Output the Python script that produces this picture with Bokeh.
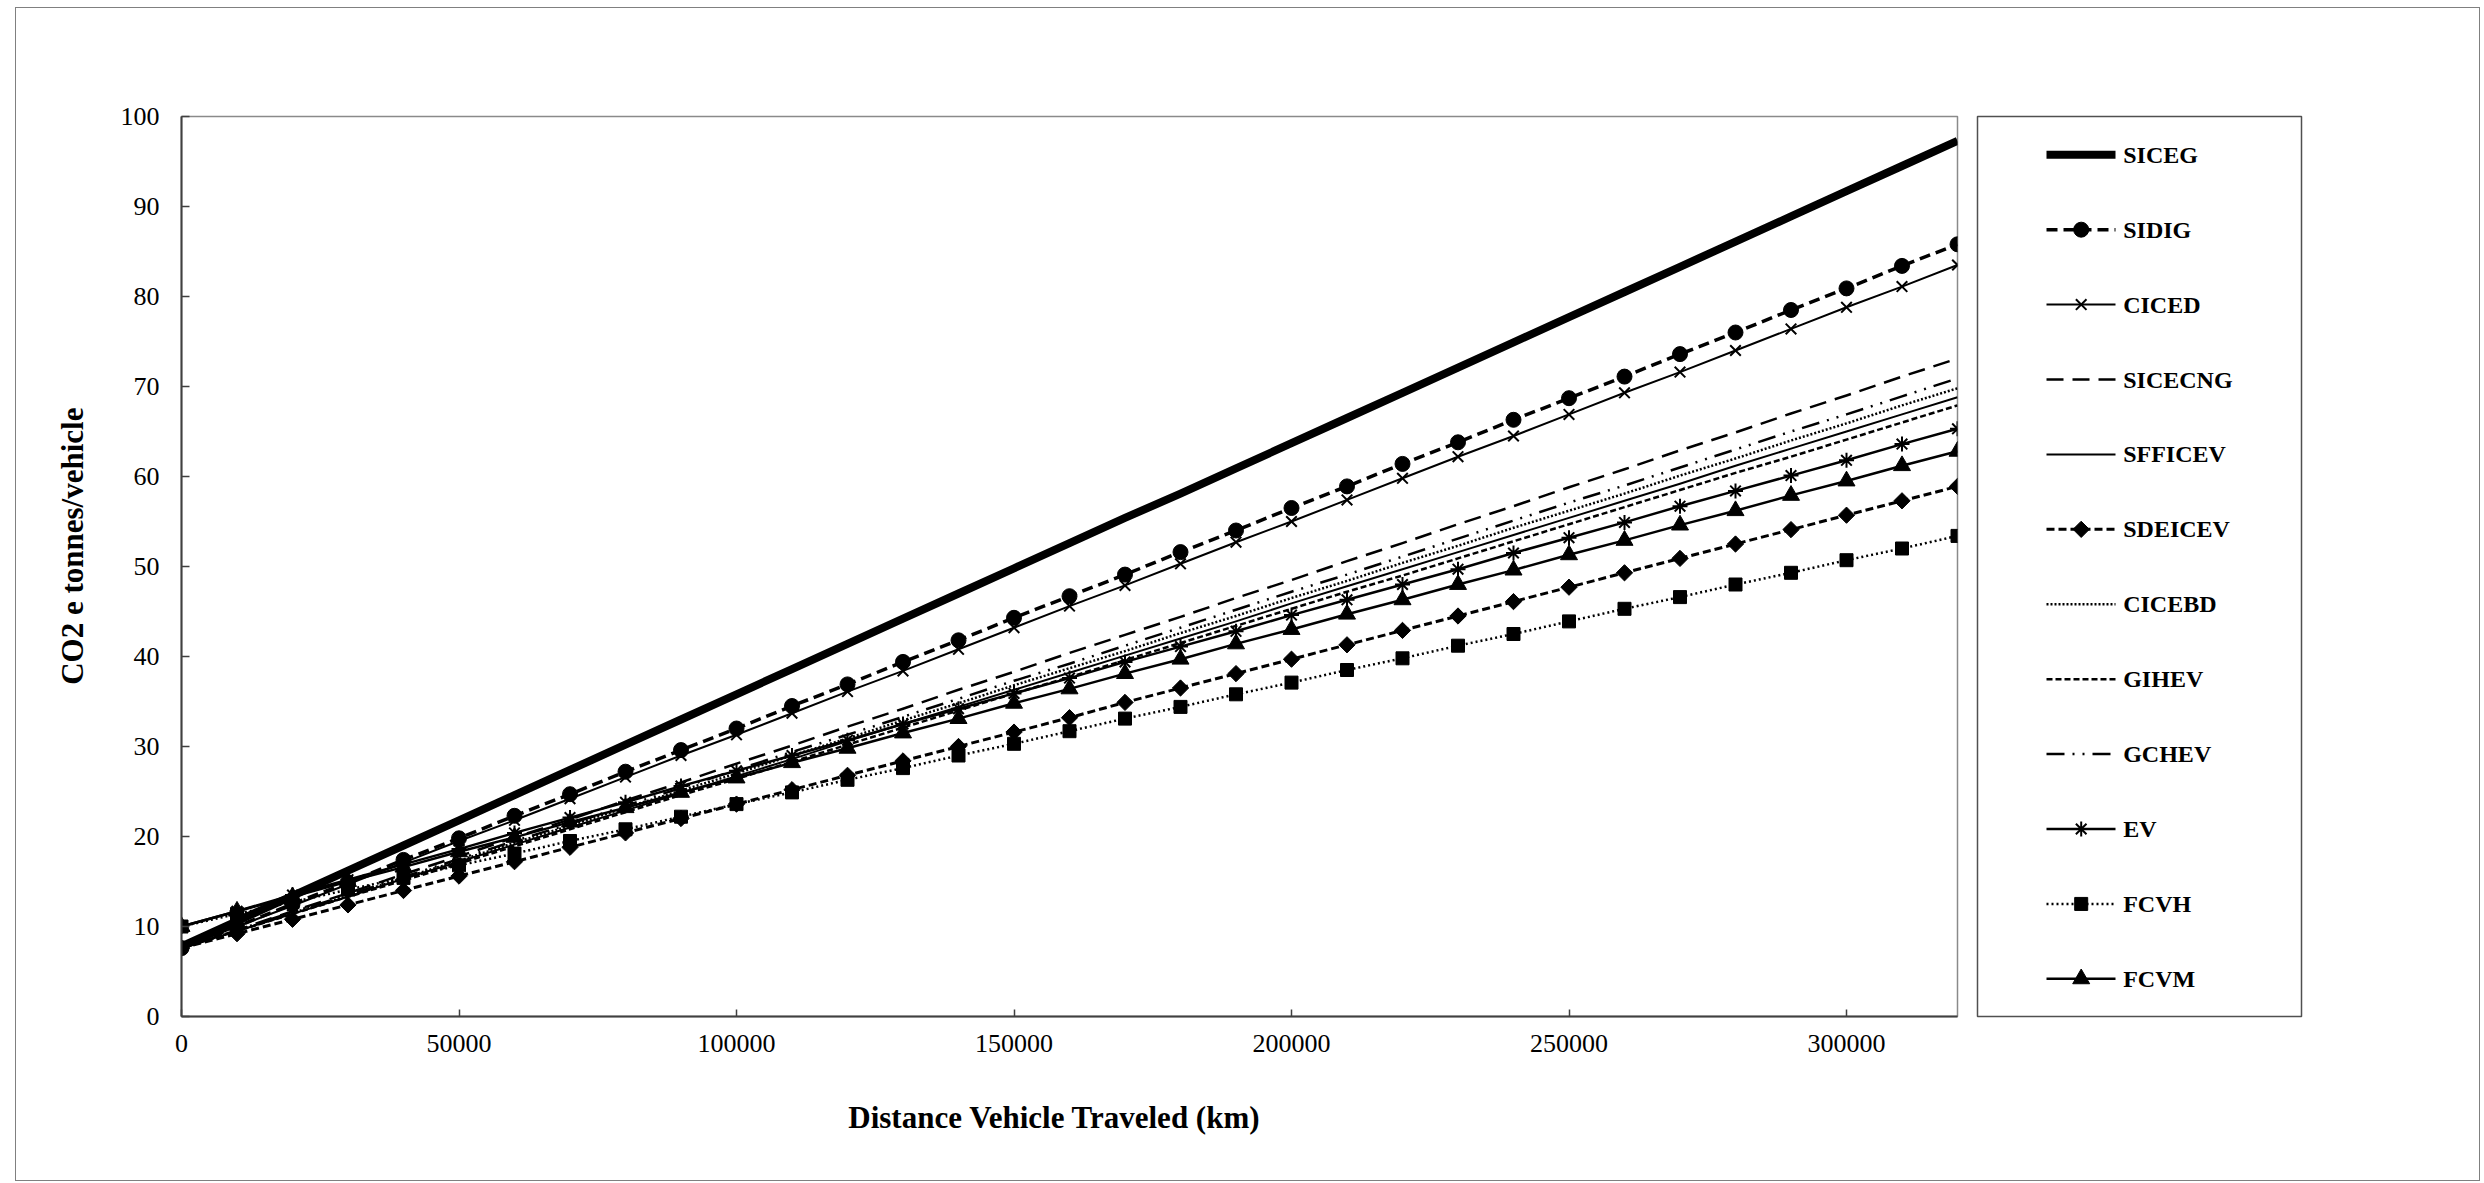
import numpy as np
from bokeh.plotting import figure
from bokeh.layouts import row, column
from bokeh.models import Range1d, FixedTicker, NumeralTickFormatter
from bokeh.core.properties import value
from bokeh.embed import file_html
from bokeh.resources import INLINE

# ---------------- data ----------------
distance_km = [0, 10000, 20000, 30000, 40000, 50000, 60000, 70000, 80000, 90000,
               100000, 110000, 120000, 130000, 140000, 150000, 160000, 170000, 180000,
               190000, 200000, 210000, 220000, 230000, 240000, 250000, 260000, 270000,
               280000, 290000, 300000, 310000, 320000]

x_ticks = [0, 50000, 100000, 150000, 200000, 250000, 300000]
y_ticks = [0, 10, 20, 30, 40, 50, 60, 70, 80, 90, 100]

SICEG = [7.8, 10.6, 13.4, 16.2, 19.0, 21.8, 24.6, 27.4, 30.2, 33.0, 35.8, 38.6, 41.4,
         44.2, 47.0, 49.8, 52.6, 55.4, 58.1, 60.9, 63.7, 66.5, 69.3, 72.1, 74.9, 77.7,
         80.5, 83.3, 86.1, 88.9, 91.7, 94.5, 97.3]
SIDIG = [7.6, 10.0, 12.5, 14.9, 17.4, 19.8, 22.3, 24.7, 27.2, 29.6, 32.0, 34.5, 36.9,
         39.4, 41.8, 44.3, 46.7, 49.1, 51.6, 54.0, 56.5, 58.9, 61.4, 63.8, 66.3, 68.7,
         71.1, 73.6, 76.0, 78.5, 80.9, 83.4, 85.8]
CICED = [7.6, 10.0, 12.3, 14.7, 17.1, 19.5, 21.8, 24.2, 26.6, 29.0, 31.3, 33.7, 36.1,
         38.4, 40.8, 43.2, 45.6, 47.9, 50.3, 52.7, 55.0, 57.4, 59.8, 62.2, 64.5, 66.9,
         69.3, 71.6, 74.0, 76.4, 78.8, 81.1, 83.5]
SICECNG = [7.6, 9.6, 11.7, 13.7, 15.8, 17.8, 19.9, 21.9, 24.0, 26.0, 28.1, 30.1, 32.2,
           34.2, 36.3, 38.3, 40.4, 42.4, 44.4, 46.5, 48.5, 50.6, 52.6, 54.7, 56.7, 58.8,
           60.8, 62.9, 64.9, 67.0, 69.0, 71.1, 73.1]
SFFICEV = [7.6, 9.5, 11.4, 13.3, 15.3, 17.2, 19.1, 21.0, 22.9, 24.8, 26.7, 28.6, 30.6,
           32.5, 34.4, 36.3, 38.2, 40.1, 42.0, 43.9, 45.9, 47.8, 49.7, 51.6, 53.5, 55.4,
           57.3, 59.2, 61.2, 63.1, 65.0, 66.9, 68.8]
SDEICEV = [7.6, 9.2, 10.8, 12.4, 14.0, 15.6, 17.2, 18.8, 20.4, 22.0, 23.6, 25.2, 26.8,
           28.4, 30.0, 31.6, 33.2, 34.9, 36.5, 38.1, 39.7, 41.3, 42.9, 44.5, 46.1, 47.7,
           49.3, 50.9, 52.5, 54.1, 55.7, 57.3, 58.9]
CICEBD = [7.6, 9.5, 11.5, 13.4, 15.4, 17.3, 19.3, 21.2, 23.2, 25.1, 27.0, 29.0, 30.9,
          32.9, 34.8, 36.8, 38.7, 40.6, 42.6, 44.5, 46.5, 48.4, 50.4, 52.3, 54.3, 56.2,
          58.1, 60.1, 62.0, 64.0, 65.9, 67.9, 69.8]
GIHEV = [7.6, 9.5, 11.4, 13.3, 15.1, 17.0, 18.9, 20.8, 22.7, 24.6, 26.4, 28.3, 30.2,
         32.1, 34.0, 35.9, 37.7, 39.6, 41.5, 43.4, 45.3, 47.2, 49.0, 50.9, 52.8, 54.7,
         56.6, 58.5, 60.4, 62.2, 64.1, 66.0, 67.9]
GCHEV = [7.6, 9.6, 11.6, 13.5, 15.5, 17.5, 19.5, 21.4, 23.4, 25.4, 27.4, 29.4, 31.3,
         33.3, 35.3, 37.3, 39.2, 41.2, 43.2, 45.2, 47.2, 49.1, 51.1, 53.1, 55.1, 57.1,
         59.0, 61.0, 63.0, 65.0, 66.9, 68.9, 70.9]
EV = [10.0, 11.7, 13.5, 15.2, 16.9, 18.6, 20.4, 22.1, 23.8, 25.6, 27.3, 29.0, 30.7,
      32.5, 34.2, 35.9, 37.6, 39.4, 41.1, 42.8, 44.6, 46.3, 48.0, 49.7, 51.5, 53.2,
      54.9, 56.7, 58.4, 60.1, 61.8, 63.6, 65.3]
FCVH = [10.0, 11.4, 12.7, 14.1, 15.4, 16.8, 18.1, 19.5, 20.8, 22.2, 23.6, 24.9, 26.3,
        27.6, 29.0, 30.3, 31.7, 33.1, 34.4, 35.8, 37.1, 38.5, 39.8, 41.2, 42.5, 43.9,
        45.3, 46.6, 48.0, 49.3, 50.7, 52.0, 53.4]
FCVM = [10.0, 11.7, 13.3, 15.0, 16.6, 18.3, 19.9, 21.6, 23.2, 24.9, 26.5, 28.2, 29.8,
        31.5, 33.1, 34.8, 36.4, 38.1, 39.7, 41.4, 43.0, 44.7, 46.3, 48.0, 49.6, 51.3,
        52.9, 54.6, 56.2, 57.9, 59.5, 61.2, 62.8]

series_names = ["SICEG", "SIDIG", "CICED", "SICECNG", "SFFICEV", "SDEICEV",
                "CICEBD", "GIHEV", "GCHEV", "EV", "FCVH", "FCVM"]
series_values = [SICEG, SIDIG, CICED, SICECNG, SFFICEV, SDEICEV,
                 CICEBD, GIHEV, GCHEV, EV, FCVH, FCVM]

x_title = "Distance Vehicle Traveled (km)"
y_title = "CO2 e tonnes/vehicle"

# ---------------- styles ----------------
FONT = "Liberation Serif"
styles = {
    "SICEG":   dict(lw=8.0, dash="solid"),
    "SIDIG":   dict(lw=3.5, dash="11 6", marker="circle", size=15),
    "CICED":   dict(lw=2.0, dash="solid", marker="x", size=15, mlw=2),
    "SICECNG": dict(lw=2.5, dash="17 9"),
    "SFFICEV": dict(lw=2.0, dash="solid"),
    "SDEICEV": dict(lw=3.0, dash="8 4", marker="square", size=11.5, angle=np.pi / 4),
    "CICEBD":  dict(lw=2.5, dash="2 2"),
    "GIHEV":   dict(lw=2.5, dash="6 3"),
    "GCHEV":   dict(lw=2.5, dash="18 8 2 8 2 8"),
    "EV":      dict(lw=2.5, dash="solid", marker="asterisk", size=15, mlw=2),
    "FCVH":    dict(lw=2.5, dash="2 3", marker="square", size=13),
    "FCVM":    dict(lw=2.5, dash="solid", marker="triangle", size=17),
}

# page geometry: outer box x 16..2479, y 8..1180
SPLIT_Y = 1093            # page y where the lower (x-title) strip begins
TOP_H = SPLIT_Y - 8
BOT_H = 1180 - SPLIT_Y
TOTAL_W = 2463
PLOT_BOTTOM = 1021


def bare(width, height, xr, yr, **kw):
    f = figure(width=width, height=height, x_range=Range1d(*xr), y_range=Range1d(*yr),
               output_backend="svg", toolbar_location=None,
               x_axis_type=None, y_axis_type=None, **kw)
    f.grid.visible = False
    return f


# ---------------- y-axis title panel ----------------
yt = bare(90, TOP_H, (0, 90), (0, TOP_H),
          min_border_left=0, min_border_right=0, min_border_top=0, min_border_bottom=0)
yt.outline_line_color = None
yt.text(x=[55.7], y=[SPLIT_Y - 526], text=[y_title], angle=np.pi / 2,
        text_font=value(FONT), text_font_style="bold", text_font_size="31px",
        text_align="center", text_baseline="middle", text_color="black")

# ---------------- main plot ----------------
p = figure(width=1861, height=TOP_H, x_range=Range1d(0, 320000), y_range=Range1d(0, 100),
           output_backend="svg", toolbar_location=None,
           min_border_left=75, min_border_right=10, min_border_top=108,
           min_border_bottom=SPLIT_Y - PLOT_BOTTOM)
p.grid.visible = False
p.outline_line_color = "#8a8a8a"
p.outline_line_width = 1.5

p.xaxis.ticker = FixedTicker(ticks=x_ticks)
p.xaxis.formatter = NumeralTickFormatter(format="0")
p.yaxis.ticker = FixedTicker(ticks=y_ticks)
for ax, tin, standoff in ((p.xaxis, 7, 18), (p.yaxis, 8, 22)):
    ax.axis_line_color = "#404040"
    ax.axis_line_width = 2
    ax.major_tick_in = tin
    ax.major_tick_out = 0
    ax.minor_tick_in = 0
    ax.minor_tick_out = 0
    ax.major_tick_line_color = "#404040"
    ax.major_tick_line_width = 1.5
    ax.major_label_text_font = FONT
    ax.major_label_text_font_size = "26px"
    ax.major_label_text_color = "black"
    ax.major_label_standoff = standoff

for name, vals in zip(series_names, series_values):
    st = styles[name]
    p.line(distance_km, vals, line_color="black", line_width=st["lw"],
           line_dash=st["dash"], line_join="round")
    if "marker" in st:
        p.scatter(distance_km, vals, marker=st["marker"], size=st["size"],
                  angle=st.get("angle", 0.0), fill_color="black", line_color="black",
                  line_width=st.get("mlw", 1))

# ---------------- legend panel ----------------
LW = 324
LH = 901
q = bare(512, TOP_H, (0, LW), (0, LH),
         min_border_left=10, min_border_right=178, min_border_top=107,
         min_border_bottom=SPLIT_Y - 1016)
q.outline_line_color = "#505050"
q.outline_line_width = 1.5

row_top = 38.3
row_pitch = 75
line_x0, line_x1, mark_x, text_x = 69, 138, 103.7, 145.7
ys = []
for i, name in enumerate(series_names):
    st = styles[name]
    yy = LH - (row_top + row_pitch * i)
    ys.append(yy)
    q.line([line_x0, line_x1], [yy, yy], line_color="black", line_width=st["lw"],
           line_dash=st["dash"])
    if "marker" in st:
        q.scatter([mark_x], [yy], marker=st["marker"], size=st["size"],
                  angle=st.get("angle", 0.0), fill_color="black", line_color="black",
                  line_width=st.get("mlw", 1))
q.text(x=[text_x] * len(series_names), y=ys, text=series_names,
       text_font=value(FONT), text_font_style="bold", text_font_size="24px",
       text_align="left", text_baseline="middle", text_color="black")

# ---------------- x-axis title strip ----------------
xt = bare(TOTAL_W, BOT_H, (0, TOTAL_W), (0, BOT_H),
          min_border_left=0, min_border_right=0, min_border_top=0, min_border_bottom=0)
xt.outline_line_color = None
xt.text(x=[1054 - 16], y=[1180 - 1117], text=[x_title],
        text_font=value(FONT), text_font_style="bold", text_font_size="31px",
        text_align="center", text_baseline="middle", text_color="black")

layout = column(row(yt, p, q), xt, margin=(8, 0, 0, 16),
                styles={"outline": "1px solid #808080"})

open("out.html", "w").write(file_html(layout, INLINE))
